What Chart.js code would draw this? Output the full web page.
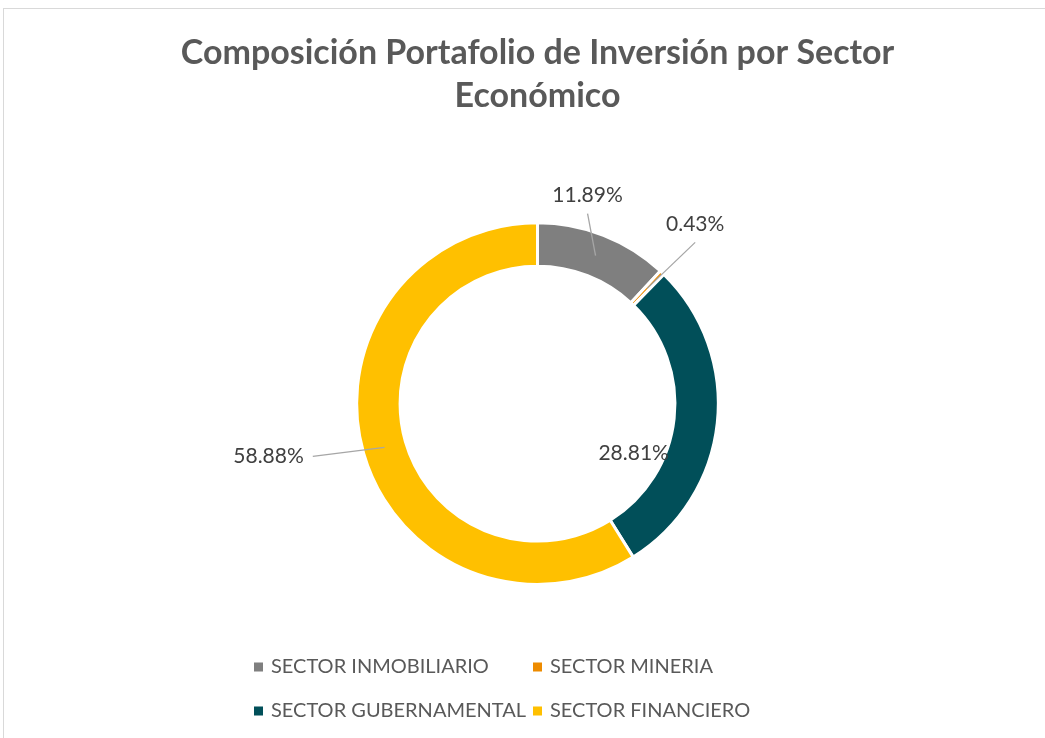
<!DOCTYPE html>
<html lang="es">
<head>
<meta charset="utf-8">
<title>Composición Portafolio de Inversión por Sector Económico</title>
<script src="https://cdn.jsdelivr.net/npm/chart.js@4.4.1/dist/chart.umd.min.js"></script>
<style>
  html, body { margin: 0; padding: 0; background: #fff; overflow: hidden; }
  #marco {
    position: absolute; left: 3px; top: 8px;
    width: 2000px; height: 2000px;
    border-left: 1px solid #d9d9d9; border-top: 1px solid #d9d9d9;
  }
  #contenedor { position: absolute; left: 0; top: 0; width: 1045px; height: 738px; }
</style>
</head>
<body>
<div id="marco"></div>
<div id="contenedor"><canvas id="graficaSectores"></canvas></div>
<script>
// ========== DATOS ==========
const tituloLineas = ['Composición Portafolio de Inversión por Sector', 'Económico'];
const sectores = ['SECTOR INMOBILIARIO', 'SECTOR MINERIA', 'SECTOR GUBERNAMENTAL', 'SECTOR FINANCIERO'];
const porcentajes = [11.89, 0.43, 28.81, 58.88];
const colores = ['#7f7f7f', '#ed8b00', '#014f59', '#ffc000'];

// ========== ESTILO ==========
const fuente = 'Lato, "Open Sans", sans-serif';
const colorTexto = '#595959';
const colorEtiqueta = '#404040';

// desplazamiento de cada etiqueta respecto al punto medio del anillo, y si lleva línea guía
const desplazamientoEtiquetas = [[-8, -60], [48, -64], [-62, 32], [-116, 9]];
const conLinea = [true, true, false, true];

// Etiquetas de porcentaje con líneas guía
const pluginEtiquetas = {
  id: 'etiquetasPorcentaje',
  afterDatasetsDraw(chart) {
    const ctx = chart.ctx;
    const meta = chart.getDatasetMeta(0);
    ctx.save();
    ctx.font = '21px ' + fuente;
    ctx.textAlign = 'center';
    ctx.textBaseline = 'middle';
    meta.data.forEach((arco, i) => {
      const p = arco.getProps(['x', 'y', 'startAngle', 'endAngle', 'innerRadius', 'outerRadius'], true);
      const medio = (p.startAngle + p.endAngle) / 2;
      const rMedio = (p.innerRadius + p.outerRadius) / 2;
      const ax = p.x + Math.cos(medio) * rMedio;
      const ay = p.y + Math.sin(medio) * rMedio;
      const [dx, dy] = desplazamientoEtiquetas[i];
      const lx = ax + dx;
      const ly = ay + dy;
      const texto = porcentajes[i].toFixed(2) + '%';
      const ancho = ctx.measureText(texto).width;

      if (conLinea[i]) {
        let fx, fy;
        if (Math.abs(dy) > Math.abs(dx)) {
          fx = lx;
          fy = ly + (dy < 0 ? 18 : -18);
        } else {
          fx = lx + (dx < 0 ? ancho / 2 + 9 : -ancho / 2 - 9);
          fy = ly;
        }
        ctx.strokeStyle = '#a6a6a6';
        ctx.lineWidth = 1.3;
        ctx.beginPath();
        ctx.moveTo(fx, fy);
        ctx.lineTo(ax, ay);
        ctx.stroke();
      }
      ctx.fillStyle = colorEtiqueta;
      ctx.fillText(texto, lx, ly);
    });
    ctx.restore();
  }
};

// Leyenda en dos columnas
const leyendaColumnas = [254, 533];
const leyendaFilas = [667, 711];
const pluginLeyenda = {
  id: 'leyendaDosColumnas',
  afterDraw(chart) {
    const ctx = chart.ctx;
    ctx.save();
    ctx.font = '20px ' + fuente;
    ctx.textBaseline = 'middle';
    ctx.textAlign = 'left';
    sectores.forEach((nombre, i) => {
      const x = leyendaColumnas[i % 2];
      const y = leyendaFilas[Math.floor(i / 2)];
      ctx.fillStyle = colores[i];
      ctx.fillRect(x, y - 4.5, 9, 9);
      ctx.fillStyle = colorTexto;
      ctx.fillText(nombre, x + 17, y);
    });
    ctx.restore();
  }
};

new Chart(document.getElementById('graficaSectores'), {
  type: 'doughnut',
  data: {
    labels: sectores,
    datasets: [{
      data: porcentajes,
      backgroundColor: colores,
      borderColor: '#ffffff',
      borderWidth: 3
    }]
  },
  options: {
    responsive: true,
    maintainAspectRatio: false,
    animation: false,
    cutout: '76%',
    layout: { padding: { top: 0, bottom: 152, left: 30, right: 0 } },
    plugins: {
      title: {
        display: true,
        text: tituloLineas,
        color: colorTexto,
        font: { family: fuente, size: 34, weight: 'bold', lineHeight: 1.27 },
        padding: { top: 31, bottom: 104 }
      },
      legend: { display: false },
      tooltip: { enabled: false }
    }
  },
  plugins: [pluginEtiquetas, pluginLeyenda]
});
</script>
</body>
</html>
